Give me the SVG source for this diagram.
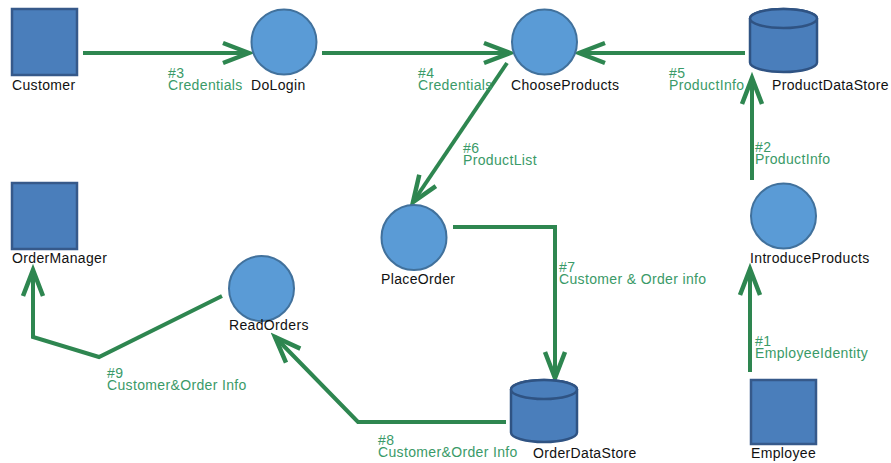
<svg xmlns="http://www.w3.org/2000/svg" width="891" height="463" viewBox="0 0 891 463">
<style>
.box{fill:#4a7ebb;stroke:#36598a;stroke-width:2.5}
.proc{fill:#5a9bd6;stroke:#41719c;stroke-width:2}
.store{fill:#4a7ebb;stroke:#2f5383;stroke-width:2.5}
.lbl{font-family:"Liberation Sans",Arial,sans-serif;font-size:14px;letter-spacing:0.35px;fill:#111}
.flow{fill:none;stroke:#2e8650;stroke-width:4;stroke-linejoin:miter}
.fl{font-family:"Liberation Sans",Arial,sans-serif;font-size:14px;letter-spacing:0.35px;fill:#3a9a68}
</style>
<defs>
<marker id="ah" markerUnits="userSpaceOnUse" viewBox="-34 -16 40 32" markerWidth="40" markerHeight="32" refX="0" refY="0" orient="auto">
<path d="M-26,-10 L0,0 L-26,10" fill="none" stroke="#2e8650" stroke-width="4.5"/>
</marker>
</defs>
<g id="connectors">
<path class="flow" d="M83,53 L249,53" marker-end="url(#ah)"/>
<path class="flow" d="M322,53 L510,53" marker-end="url(#ah)"/>
<path class="flow" d="M745,53 L579,53" marker-end="url(#ah)"/>
<path class="flow" d="M752,180 L752,78" marker-end="url(#ah)"/>
<path class="flow" d="M507,63 L413,202" marker-end="url(#ah)"/>
<path class="flow" d="M453,227 L555,227 L555,378" marker-end="url(#ah)"/>
<path class="flow" d="M506,422 L358,422 L275,337" marker-end="url(#ah)"/>
<path class="flow" d="M222,296 L99,357 L33,337 L33,270" marker-end="url(#ah)"/>
<path class="flow" d="M750,372 L750,269" marker-end="url(#ah)"/>
<text class="fl" x="168" y="78">#3</text><text class="fl" x="168" y="90">Credentials</text>
<text class="fl" x="418" y="78">#4</text><text class="fl" x="418" y="90">Credentials</text>
<text class="fl" x="669" y="78">#5</text><text class="fl" x="669" y="90">ProductInfo</text>
<text class="fl" x="755" y="152">#2</text><text class="fl" x="755" y="164">ProductInfo</text>
<text class="fl" x="463" y="153">#6</text><text class="fl" x="463" y="165">ProductList</text>
<text class="fl" x="559" y="272">#7</text><text class="fl" x="559" y="284">Customer &amp; Order info</text>
<text class="fl" x="378" y="445">#8</text><text class="fl" x="378" y="457">Customer&amp;Order Info</text>
<text class="fl" x="107" y="378">#9</text><text class="fl" x="107" y="390">Customer&amp;Order Info</text>
<text class="fl" x="755" y="346">#1</text><text class="fl" x="755" y="358">EmployeeIdentity</text>
</g>
<g id="Customer">
<rect class="box" x="12" y="9" width="65" height="66"/>
<text class="lbl" x="12" y="90">Customer</text>
</g>
<g id="DoLogin">
<circle class="proc" cx="284" cy="42" r="32.5"/>
<text class="lbl" x="251" y="90">DoLogin</text>
</g>
<g id="ChooseProducts">
<circle class="proc" cx="544.5" cy="42" r="32.5"/>
<text class="lbl" x="511" y="90">ChooseProducts</text>
</g>
<g id="ProductDataStore">
<path class="store" d="M750,18.5 V62.5 A33.5,9.5 0 0 0 817,62.5 V18.5 A33.5,9.5 0 0 0 750,18.5 Z"/>
<ellipse class="store" cx="783.5" cy="18.5" rx="33.5" ry="9.5"/>
<text class="lbl" x="772" y="90">ProductDataStore</text>
</g>
<g id="IntroduceProducts">
<circle class="proc" cx="783.5" cy="216" r="32.5"/>
<text class="lbl" x="750" y="263">IntroduceProducts</text>
</g>
<g id="Employee">
<rect class="box" x="751" y="380" width="65" height="64"/>
<text class="lbl" x="751" y="458">Employee</text>
</g>
<g id="OrderManager">
<rect class="box" x="12" y="183" width="65" height="66"/>
<text class="lbl" x="12" y="263">OrderManager</text>
</g>
<g id="ReadOrders">
<circle class="proc" cx="261.5" cy="288.5" r="32.5"/>
<text class="lbl" x="229" y="330">ReadOrders</text>
</g>
<g id="PlaceOrder">
<circle class="proc" cx="414" cy="237.5" r="32.5"/>
<text class="lbl" x="381" y="284">PlaceOrder</text>
</g>
<g id="OrderDataStore">
<path class="store" d="M511,389.5 V432.5 A33,9.5 0 0 0 577,432.5 V389.5 A33,9.5 0 0 0 511,389.5 Z"/>
<ellipse class="store" cx="544" cy="389.5" rx="33" ry="9.5"/>
<text class="lbl" x="533" y="458">OrderDataStore</text>
</g>
</svg>
